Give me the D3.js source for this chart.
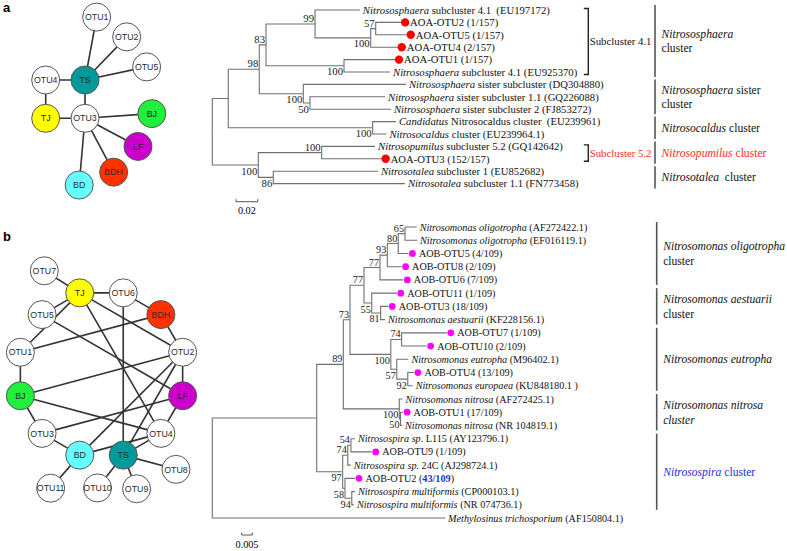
<!DOCTYPE html>
<html><head><meta charset="utf-8">
<script src="https://cdn.jsdelivr.net/npm/d3@7"></script>
<style>
body{margin:0;background:#fff}
svg{display:block}
text{white-space:pre}
</style></head><body>
<svg id="c" width="787" height="551"></svg>
<script>
// ================= DATA =================
// Panel a network
const netA_nodes = ["OTU4","TS","TJ","OTU3","OTU1","OTU2","OTU5","BJ","LF","BDH","BD"];
const netA_edges = [["OTU1","TS"],["OTU2","TS"],["OTU5","TS"],["OTU4","TS"],["TS","OTU3"],
  ["OTU4","TJ"],["TJ","OTU3"],["OTU3","BJ"],["OTU3","LF"],["OTU3","BDH"],["OTU3","BD"]];
// Panel b network
const netB_ring = ["TJ","OTU6","BDH","OTU2","LF","OTU4","TS","BD","OTU3","BJ","OTU1","OTU5"];
const netB_outer = ["OTU7","OTU8","OTU9","OTU10","OTU11"];
const netB_edges = [["OTU7","TJ"],["TJ","OTU6"],["TJ","OTU5"],["TJ","OTU1"],["TJ","OTU2"],["TJ","OTU4"],
  ["OTU5","LF"],["OTU6","TS"],["OTU6","BDH"],["BDH","OTU1"],["BDH","OTU2"],["OTU2","LF"],
  ["OTU2","BJ"],["OTU2","BD"],["OTU2","TS"],["LF","OTU3"],["LF","OTU4"],["BD","OTU4"],
  ["TS","OTU4"],["TS","OTU8"],["TS","OTU10"],["TS","OTU9"],["BD","OTU11"],["BD","OTU3"],
  ["OTU3","BJ"],["BJ","OTU1"],["BJ","OTU4"]];
const siteNames = ["TS","TJ","BJ","LF","BDH","BD"];

// Tree a: internal nodes [id, parent, distance from root, bootstrap, label side]
const treeA_internal = [
  ["r",null,0,"",""],
  ["n1","r",0.0147,"",""],
  ["n98","n1",0.0433,"98","u"],
  ["n83","n98",0.0495,"83","u"],
  ["n99","n83",0.0947,"99","u"],
  ["n100a","n99",0.146,"100","d"],
  ["n57","n100a",0.1506,"57","u"],
  ["n100b","n83",0.1214,"100","d"],
  ["n100s","n98",0.0839,"100","d"],
  ["n50","n100s",0.09,"50","d"],
  ["n100c","n1",0.1478,"100","d"],
  ["n100p","r",0.0424,"100","d"],
  ["n100pu","n100p",0.1008,"100","u"],
  ["n86","n100p",0.0562,"86","d"]
];
// Tree a leaves in display order: [parent, distance, label, is OTU]
const treeA_leaves = [
  ["n99",0.136,"*Nitrososphaera* subcluster 4.1  (EU197172)",0],
  ["n57",0.174,"AOA-OTU2 (1/157)",1],
  ["n57",0.1792,"AOA-OTU5 (1/157)",1],
  ["n100a",0.1709,"AOA-OTU4 (2/157)",1],
  ["n100b",0.1684,"AOA-OTU1 (1/157)",1],
  ["n100b",0.1638,"*Nitrososphaera* subcluster 4.1 (EU925370)",0],
  ["n100s",0.1785,"*Nitrososphaera* sister subcluster (DQ304880)",0],
  ["n50",0.1592,"*Nitrososphaera* sister subcluster 1.1 (GQ226088)",0],
  ["n50",0.1647,"*Nitrososphaera* sister subcluster 2 (FJ853272)",0],
  ["n100c",0.1693,"*Candidatus* Nitrosocaldus cluster  (EU239961)",0],
  ["n100c",0.1605,"*Nitrosocaldus* cluster (EU239964.1)",0],
  ["n100pu",0.15,"*Nitrosopumilus* subcluster 5.2 (GQ142642)",0],
  ["n100pu",0.1561,"AOA-OTU3 (152/157)",1],
  ["n86",0.1527,"*Nitrosotalea* subcluster 1 (EU852682)",0],
  ["n86",0.1776,"*Nitrosotalea* subcluster 1.1 (FN773458)",0]
];
// clusters: [first leaf, last leaf, text lines, colour key]
const treeA_clusters = [
  [0,5,["*Nitrososphaera*","cluster"],"k"],
  [6,8,["*Nitrososphaera* sister","cluster"],"k"],
  [9,10,["*Nitrosocaldus* cluster"],"k"],
  [11,12,["*Nitrosopumilus* cluster"],"r"],
  [13,14,["*Nitrosotalea*  cluster"],"k"]
];
const treeA_subclusters = [[0,5,"Subcluster 4.1","k"],[11,12,"Subcluster 5.2","r"]];

// Tree b
const treeB_internal = [
  ["r",null,0,"",""],
  ["J","r",0.04925,"",""],
  ["n89","J",0.0618,"89","u"],
  ["n73","n89",0.06495,"73","u"],
  ["n77b","n73",0.07156,"77","u"],
  ["n77a","n77b",0.0791,"77","u"],
  ["n93","n77a",0.08255,"93","u"],
  ["n80","n93",0.0877,"80","u"],
  ["n65","n80",0.0909,"65","u"],
  ["n55","n77b",0.0752,"55","d"],
  ["n81","n55",0.0794,"81","d"],
  ["n100e","n73",0.0842,"100","d"],
  ["n74","n100e",0.0893,"74","u"],
  ["n57","n100e",0.087,"57","d"],
  ["n92","n57",0.0922,"92","d"],
  ["n100n","n89",0.0882,"100","d"],
  ["n50","n100n",0.0888,"50","d"],
  ["n97","J",0.0615,"97","d"],
  ["n74s","n97",0.0639,"74","u"],
  ["n54","n74s",0.0654,"54","u"],
  ["n58","n97",0.0626,"58","d"],
  ["n94","n58",0.0658,"94","d"]
];
const treeB_leaves = [
  ["n65",0.0964,"*Nitrosomonas oligotropha* (AF272422.1)",0],
  ["n65",0.0966,"*Nitrosomonas oligotropha* (EF016119.1)",0],
  ["n80",0.0925,"AOB-OTU5 (4/109)",1],
  ["n93",0.0893,"AOB-OTU8 (2/109)",1],
  ["n77a",0.0901,"AOB-OTU6 (7/109)",1],
  ["n55",0.087,"AOB-OTU11 (1/109)",1],
  ["n81",0.083,"AOB-OTU3 (18/109)",1],
  ["n81",0.0815,"*Nitrosomonas aestuarii* (KF228156.1)",0],
  ["n74",0.1106,"AOB-OTU7 (1/109)",1],
  ["n74",0.1011,"AOB-OTU10 (2/109)",1],
  ["n57",0.0925,"*Nitrosomonas eutropha* (M96402.1)",0],
  ["n92",0.0951,"AOB-OTU4 (13/109)",1],
  ["n92",0.0945,"*Nitrosomonas europaea* (KU848180.1 )",0],
  ["n100n",0.0897,"*Nitrosomonas nitrosa* (AF272425.1)",0],
  ["n50",0.09,"AOB-OTU1 (17/109)",1],
  ["n50",0.0895,"*Nitrosomonas nitrosa* (NR 104819.1)",0],
  ["n54",0.0673,"*Nitrosospira sp.* L115 (AY123796.1)",0],
  ["n54",0.0752,"AOB-OTU9 (1/109)",1],
  ["n74s",0.0653,"*Nitrosospira sp.* 24C (AJ298724.1)",0],
  ["n58",0.0673,"AOB-OTU2 (#43/109#)",1],
  ["n94",0.0673,"*Nitrosospira multiformis* (CP000103.1)",0],
  ["n94",0.0668,"*Nitrosospira multiformis* (NR 074736.1)",0],
  ["r",0.1098,"*Methylosinus trichosporium* (AF150804.1)",0]
];
const treeB_clusters = [
  [0,4,["*Nitrosomonas oligotropha*","cluster"],"k"],
  [5,7,["*Nitrosomonas aestuarii*","cluster"],"k"],
  [8,12,["*Nitrosomonas eutropha*"],"k"],
  [13,15,["*Nitrosomonas nitrosa*","*cluster*"],"k"],
  [16,21,["*Nitrosospira* cluster"],"b"]
];
const scaleBars = [0.02, 0.005];

// ================= STYLE / LAYOUT =================
const COL = {k:"#111", r:"#ff2a2a", b:"#2030e0"};
const siteFill = {TS:"#009a9a",TJ:"#ffff00",BJ:"#1ef03c",LF:"#cc00cc",BDH:"#ff3300",BD:"#66ffff"};
const SERIF = "'Liberation Serif','Times New Roman',serif";
const SANS = "'Liberation Sans',Arial,sans-serif";
const svg = d3.select("#c");

function rich(sel, str){
  str.split(/(\*[^*]+\*|#[^#]+#)/).filter(s=>s.length).forEach(p=>{
    const t = sel.append("tspan");
    if(p[0]==="*") t.text(p.slice(1,-1)).attr("font-style","italic");
    else if(p[0]==="#") t.text(p.slice(1,-1)).attr("font-weight","bold").attr("fill",COL.b);
    else t.text(p);
  });
}

// panel letters
svg.append("text").attr("x",3).attr("y",12).text("a").attr("font-family",SANS).attr("font-weight","bold").attr("font-size",13);
svg.append("text").attr("x",3).attr("y",241).text("b").attr("font-family",SANS).attr("font-weight","bold").attr("font-size",13);

// ---------- networks ----------
function drawNet(pos, edges){
  const g = svg.append("g");
  g.selectAll("line").data(edges).join("line")
    .attr("x1",d=>pos[d[0]][0]).attr("y1",d=>pos[d[0]][1])
    .attr("x2",d=>pos[d[1]][0]).attr("y2",d=>pos[d[1]][1])
    .attr("stroke","#333").attr("stroke-width",1.6);
  const ng = g.selectAll("g.n").data(Object.keys(pos)).join("g").attr("class","n")
    .attr("transform",d=>`translate(${pos[d][0]},${pos[d][1]})`);
  ng.append("circle").attr("r",14).attr("fill",d=>siteFill[d]||"#fff").attr("stroke","#555").attr("stroke-width",1);
  ng.append("text").text(d=>d).attr("text-anchor","middle").attr("dy","0.36em")
    .attr("font-family",SANS).attr("font-size",8.8).attr("fill","#2a2a2a");
}
// network a layout: 2x2 hub grid + satellites around hubs
const gridA = {OTU4:[0,0],TS:[1,0],TJ:[0,1],OTU3:[1,1]};
const satA = {OTU1:["TS",-79.5,64],OTU2:["TS",-46,60],OTU5:["TS",-12,63],
  BJ:["OTU3",-4,67],LF:["OTU3",28,60],BDH:["OTU3",62,61],BD:["OTU3",95,67]};
const posA = {};
netA_nodes.forEach(n=>{ if(gridA[n]) posA[n]=[45.7+gridA[n][0]*39.3, 80+gridA[n][1]*38.3]; });
netA_nodes.forEach(n=>{ if(satA[n]){const [h,a,r]=satA[n]; const t=a*Math.PI/180; posA[n]=[posA[h][0]+r*Math.cos(t), posA[h][1]+r*Math.sin(t)];} });
drawNet(posA, netA_edges);

// network b layout: circular ring + outer satellites
const posB = {};
const cB=[101.5,374], RB=84;
netB_ring.forEach((n,i)=>{ const t=(-105+30*i)*Math.PI/180; posB[n]=[cB[0]+RB*Math.cos(t), cB[1]+RB*Math.sin(t)]; });
const outerB = {OTU7:[-119,118],OTU8:[52,121],OTU9:[73,120],OTU10:[92,114],OTU11:[114,125]};
netB_outer.forEach(n=>{ const [a,r]=outerB[n]; const t=a*Math.PI/180; posB[n]=[cB[0]+r*Math.cos(t), cB[1]+r*Math.sin(t)]; });
drawNet(posB, netB_edges);

// ---------- trees ----------
function drawTree(internal, leaves, o){
  const g = svg.append("g");
  const nodes = {};
  internal.forEach(d=>{ nodes[d[0]] = {id:d[0],parent:d[1],dist:d[2],boot:d[3],side:d[4],children:[]}; });
  const leafNodes = leaves.map((d,i)=>({id:"L"+i,parent:d[0],dist:d[1],label:d[2],otu:d[3],row:i,children:[]}));
  leafNodes.forEach(l=>{ nodes[l.id]=l; });
  Object.values(nodes).forEach(n=>{ if(n.parent) nodes[n.parent].children.push(n); });
  const maxD = d3.max(leafNodes,d=>d.dist);
  const x = d3.scaleLinear().domain([0,maxD]).range([o.x0, o.x0+maxD*o.ppu]);
  const y = d3.scaleLinear().domain([0,leaves.length-1]).range([o.y0, o.y0+(leaves.length-1)*o.rowH]);
  function minRow(n){ return n.children.length? d3.min(n.children,minRow) : n.row; }
  function setY(n){
    if(!n.children.length){ n.y=y(n.row); return n.y; }
    n.children.sort((a,b)=>minRow(a)-minRow(b));
    n.children.forEach(setY);
    n.y=(n.children[0].y+n.children[n.children.length-1].y)/2; return n.y;
  }
  setY(nodes.r);
  const all = Object.values(nodes);
  all.forEach(n=>{ n.x=x(n.dist); });
  // branches
  g.selectAll("path.br").data(all.filter(n=>n.parent)).join("path").attr("class","br")
    .attr("d",n=>{const p=nodes[n.parent]; return `M${p.x},${p.y}V${n.y}H${n.x}`;})
    .attr("fill","none").attr("stroke","#707070").attr("stroke-width",1.1);
  // bootstrap
  g.selectAll("text.bs").data(all.filter(n=>n.boot)).join("text").attr("class","bs")
    .attr("x",n=>n.x-1).attr("y",n=>n.side==="u"? n.y-2 : n.y+9.5)
    .attr("text-anchor","end").attr("font-family",SERIF).attr("font-size",o.fs).attr("fill","#222")
    .text(n=>n.boot);
  // dots
  g.selectAll("circle.otu").data(leafNodes.filter(l=>l.otu)).join("circle").attr("class","otu")
    .attr("cx",l=>l.x+o.dotOff).attr("cy",l=>l.y).attr("r",o.dotR).attr("fill",o.dotCol);
  // leaf labels
  g.selectAll("text.lf").data(leafNodes).join("text").attr("class","lf")
    .attr("x",l=>l.x+(l.otu?o.txtOtu:3)).attr("y",l=>l.y).attr("dy","0.35em")
    .attr("font-family",SERIF).attr("font-size",o.fs).attr("fill","#111")
    .each(function(l){ rich(d3.select(this), l.label); });
  // scale bar
  const sb = o.bar, bx0=o.barX, bx1=o.barX+sb*o.ppu;
  g.append("path").attr("d",`M${bx0},${o.barY-2.5}V${o.barY}H${bx1}V${o.barY-2.5}`)
    .attr("fill","none").attr("stroke","#555").attr("stroke-width",1);
  g.append("text").attr("x",(bx0+bx1)/2).attr("y",o.barY+9).attr("dy","0.35em").attr("text-anchor","middle")
    .attr("font-family",SERIF).attr("font-size",10.2).text(String(sb));
  // clusters
  o.clusters.forEach(c=>{
    const y1=y(c[0])-5, y2=y(c[1])+5, mid=(y1+y2)/2;
    g.append("line").attr("x1",o.clX).attr("x2",o.clX).attr("y1",y1).attr("y2",y2).attr("stroke","#555").attr("stroke-width",1.6);
    c[2].forEach((ln,i)=>{
      const t=g.append("text").attr("x",o.clX+6.5).attr("y",mid+(i-(c[2].length-1)/2)*14.5).attr("dy","0.35em")
        .attr("font-family",SERIF).attr("font-size",11.6).attr("fill",COL[c[3]]);
      rich(t, ln);
    });
  });
  (o.subs||[]).forEach(c=>{
    const y1=y(c[0])-1.5, y2=y(c[1])+2.5, bx=o.subX;
    g.append("path").attr("d",`M${bx-4.5},${y1}H${bx}V${y2}H${bx-4.5}`).attr("fill","none").attr("stroke","#222").attr("stroke-width",1.4);
    g.append("text").attr("x",651.5).attr("y",(y1+y2)/2).attr("dy","0.35em").attr("text-anchor","end")
      .attr("font-family",SERIF).attr("font-size",10.8).attr("fill",COL[c[3]]).text(c[2]);
  });
}

drawTree(treeA_internal, treeA_leaves, {x0:212.3, ppu:1085, y0:10, rowH:12.4, dotR:4.2, dotOff:4, txtOtu:9, fs:10.7,
  dotCol:"#ff0000", bar:scaleBars[0], barX:236, barY:201.7, clusters:treeA_clusters, clX:655, subs:treeA_subclusters, subX:588.3});
drawTree(treeB_internal, treeB_leaves, {x0:212.3, ppu:2120, y0:227, rowH:13.23, dotR:3.4, dotOff:4, txtOtu:10.5, fs:10.2,
  dotCol:"#ff00ff", bar:scaleBars[1], barX:241.7, barY:535, clusters:treeB_clusters, clX:656.7});
</script>
</body></html>
